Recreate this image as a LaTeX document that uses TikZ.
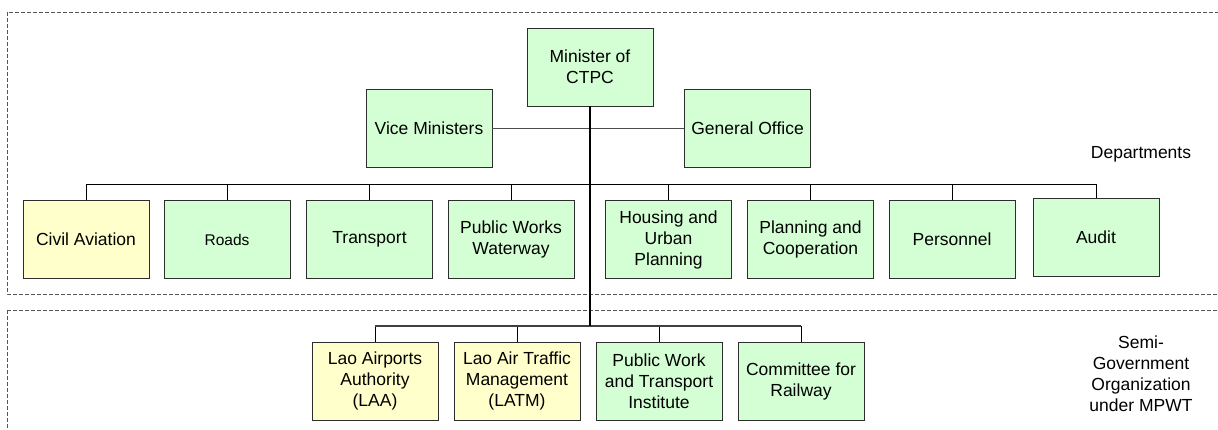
\documentclass[tikz,border=0pt]{standalone}
\usepackage{fontspec}
\setmainfont{Liberation Sans}
\definecolor{ink}{RGB}{45,45,45}
\definecolor{unitgreen}{RGB}{212,255,212}
\definecolor{unityellow}{RGB}{255,255,204}
\definecolor{framegray}{RGB}{85,85,85}
\def\bw{126}
\def\bh{78}

\begin{document}
\begin{tikzpicture}[x=1pt, y=-1pt, font=\fontsize{17.5}{21}\selectfont,
  unit/.style={draw=ink, line width=0.9pt, fill=unitgreen, minimum width=\bw pt,
    minimum height=\bh pt, inner sep=0pt, align=center},
  aviation/.style={unit, fill=unityellow},
  small/.style={unit, font=\fontsize{15.5}{19}\selectfont},
  link/.style={black, line width=0.8pt},
  trunk/.style={black, line width=2pt},
  frame/.style={framegray, line width=0.8pt, dash pattern=on 4pt off 2pt}]
\useasboundingbox (0,0) rectangle (1218,430);
\clip (0,0) rectangle (1218,430);
% the two dashed bands, both run past the right edge
\draw[frame] (7,12) rectangle (1240,294);
\draw[frame] (7,310) rectangle (1240,450);
\coordinate (dbus) at (0,184);
\coordinate (lbus) at (0,326);
% top of the ministry
\node[unit] (minister) at (590,67) {Minister of\\CTPC};
\node[unit] (vice) at (429,128) {Vice Ministers};
\node[unit] (general) at (747.5,128) {General Office};
% one box per department: x / y / name / style / text
\foreach \xx/\yy/\nm/\sty/\txt in {
  86/239.5/civil/aviation/{Civil Aviation},
  227/239.5/roads/small/Roads,
  369.5/239.5/transport/unit/Transport,
  511/239.5/works/unit/{Public Works\\Waterway},
  668.5/239.5/housing/unit/{Housing and\\Urban\\Planning},
  810.5/239.5/planning/unit/{Planning and\\Cooperation},
  952/239.5/personnel/unit/Personnel,
  1096/237.5/audit/unit/Audit%
} {
  \node[\sty] (\nm) at (\xx,\yy) {\txt};
  \draw[link] (\nm.north) -- (\nm.north |- dbus);
}
% semi-government bodies
\foreach \xx/\nm/\sty/\txt in {
  375/laa/aviation/{Lao Airports\\Authority\\(LAA)},
  517/latm/aviation/{Lao Air Traffic\\Management\\(LATM)},
  659/institute/unit/{Public Work\\and Transport\\Institute},
  801/railway/unit/{Committee for\\Railway}%
} {
  \node[\sty] (\nm) at (\xx,381) {\txt};
  \draw[link] (\nm.north) -- (\nm.north |- lbus);
}
% buses and the main line down from the minister
\draw[link] (civil.north |- dbus) -- (audit.north |- dbus);
\draw[black!75, line width=1.3pt] (laa.north |- lbus) -- (railway.north |- lbus);
\draw[gray!60!black, line width=0.8pt] (vice.east) -- (general.west);
\draw[trunk] (minister.south) -- (minister.south |- lbus);
% band labels
\node (deptlabel) at (1141,154) {Departments};
\node[align=center] (semilabel) at (1141,373.5) {Semi-\\Government\\Organization\\under MPWT};
\end{tikzpicture}
\end{document}
